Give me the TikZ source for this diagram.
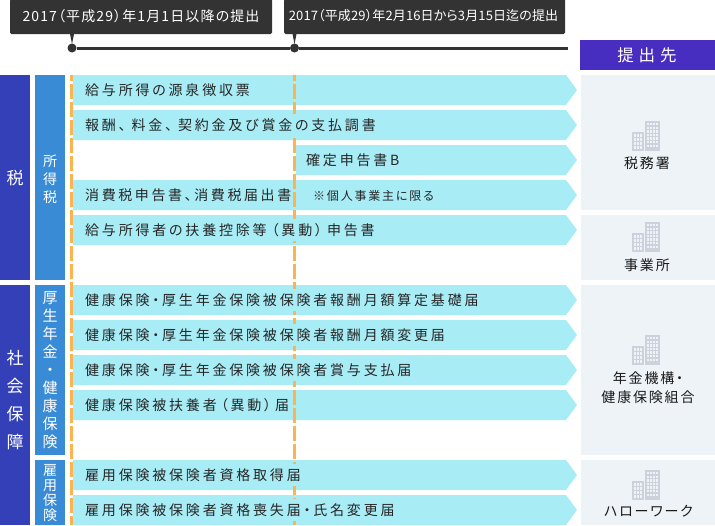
\documentclass[tikz,border=0pt]{standalone}
\usepackage{fontspec}
\setmainfont[RawFeature=+palt]{Noto Sans CJK JP}
\newfontfamily\spacedfont[LetterSpace=20,RawFeature=+palt]{Noto Sans CJK JP}
\newfontfamily\tightfont[LetterSpace=18.5,RawFeature=+palt]{Noto Sans CJK JP}
\newfontfamily\destfont[LetterSpace=13,RawFeature=+palt]{Noto Sans CJK JP}
\newfontfamily\headfont[LetterSpace=30]{Noto Sans CJK JP}
\newfontfamily\calloutfont[LetterSpace=8,RawFeature=+palt]{Noto Sans CJK JP}
\newfontfamily\calloutbfont[LetterSpace=1,RawFeature=+palt]{Noto Sans CJK JP}
\usetikzlibrary{
    arrows,
    shapes,
    shapes.misc
}
\definecolor{callgray}{HTML}{333333}
\definecolor{headviolet}{HTML}{482EC0}
\definecolor{taxblue}{HTML}{3340B8}
\definecolor{subblue}{HTML}{3A8BD6}
\definecolor{rowcyan}{HTML}{A8ECF5}
\definecolor{dashorange}{HTML}{FBB450}
\definecolor{destgray}{HTML}{EEF3F8}
\definecolor{icongray}{HTML}{CDD1DC}
\tikzset{
    rowtext/.style={anchor=west, inner sep=0pt, minimum height=22pt, fill=rowcyan, text=black!85, font=\spacedfont\fontsize{14}{16}\selectfont},
    notetext/.style={anchor=west, inner sep=0pt, text=black!85, font=\fontsize{12}{14}\selectfont\addfontfeature{LetterSpace=15}},
    calltext/.style={inner sep=0pt, text=white},
    desttext/.style={inner sep=0pt, align=center, text=black!90, font=\destfont\fontsize{14}{19}\selectfont},
    sidetext/.style={inner sep=0pt, align=center, text=white, font=\fontsize{14}{18}\selectfont},
    arrowrow/.style={fill=rowcyan},
    timedash/.style={draw=dashorange, line width=3pt, dash pattern=on 15pt off 3pt, dash phase=9pt}
}
\newcommand{\rowarrow}[2]{\fill[arrowrow] (#1,#2) -- (566,#2) -- (577,#2-15) -- (566,#2-30) -- (#1,#2-30) -- cycle;}
\newcommand{\buildingicon}[2]{
    \fill[icongray] (#1,#2-11) rectangle (#1+12,#2-30);
    \fill[icongray] (#1+13,#2) rectangle (#1+28,#2-30);
    \foreach \col in {0,1,2}
        \foreach \row in {0,1,2,3}
            \fill[destgray] (#1+1.5+\col*3.2,#2-13-\row*4) rectangle ++(2.2,-2.6);
    \foreach \col in {0,1,2,3}
        \foreach \row in {0,1,2,3,4,5,6}
            \fill[destgray] (#1+15+\col*3,#2-2-\row*3.6) rectangle ++(2.2,-2.4);
}
\begin{document}
\begin{tikzpicture}[x=1pt, y=1pt]
            \useasboundingbox (0,0) rectangle (715,-525);
            
            % callouts
            \fill[callgray, rounded corners=1.5pt] (10,1) rectangle (272,-34);
            \fill[callgray, rounded corners=1.5pt] (284,1) rectangle (565,-34);
            \fill[callgray] (70,-34) -- (74,-34) -- (72,-44) -- cycle;
            \fill[callgray] (292.5,-34) -- (296.5,-34) -- (294.5,-44) -- cycle;
            \node[calltext, font=\calloutfont\fontsize{14}{16}\selectfont] (call1) at (141,-16) {2017（平成29）年1月1日以降の提出};
            \node[calltext, font=\calloutbfont\fontsize{13}{16}\selectfont] (call2) at (423.5,-16) {2017（平成29）年2月16日から3月15日迄の提出};
            
            % time line
            \coordinate (lineend) at (568,-48);
            \node[draw=none, fill=callgray, circle, inner sep=0pt, minimum size=9pt] (dot1) at (72,-48) {};
            \node[draw=none, fill=callgray, circle, inner sep=0pt, minimum size=9pt] (dot2) at (294.5,-48) {};
            \draw[callgray, line width=3pt] (dot1)--(dot2);
            \draw[callgray, line width=3pt] (dot2)--(lineend);
            
            % left columns
            \fill[taxblue] (0,-75) rectangle (30,-280);
            \fill[taxblue] (0,-285) rectangle (30,-525);
            \fill[subblue] (35,-75) rectangle (65,-280);
            \fill[subblue] (35,-285) rectangle (65,-455);
            \fill[subblue] (35,-460) rectangle (65,-525);
            
            % rows
            \rowarrow{73}{-75}
            \rowarrow{73}{-110}
            \rowarrow{296}{-145}
            \rowarrow{73}{-180}
            \rowarrow{73}{-215}
            \rowarrow{73}{-285}
            \rowarrow{73}{-320}
            \rowarrow{73}{-355}
            \rowarrow{73}{-390}
            \rowarrow{73}{-460}
            \rowarrow{73}{-495}
            
            \draw[timedash] (71.5,-75) -- (71.5,-525);
            \draw[timedash] (294.5,-75) -- (294.5,-525);
            
            % destinations
            \fill[headviolet] (580,-40) rectangle (715,-70);
            \fill[destgray] (581,-75) rectangle (715,-210);
            \fill[destgray] (581,-215) rectangle (715,-280);
            \fill[destgray] (581,-285) rectangle (715,-455);
            \fill[destgray] (581,-460) rectangle (715,-525);
            \buildingicon{632}{-121}
            \buildingicon{632}{-222}
            \buildingicon{632}{-335}
            \buildingicon{632}{-470}
            
            \node[inner sep=0pt, text=white, font=\headfont\fontsize{16.5}{18}\selectfont] (head) at (647,-55) {提出先};
            \node[desttext] (dest1) at (647,-163) {税務署};
            \node[desttext] (dest2) at (647,-265) {事業所};
            \node[desttext] (dest3) at (648,-388) {年金機構・\\健康保険組合};
            \node[desttext] (dest4) at (648.5,-511) {ハローワーク};
            
            % side labels
            \node[sidetext, font=\fontsize{17}{28}\selectfont] (tax) at (15,-178) {税};
            \node[sidetext, font=\fontsize{17}{28}\selectfont] (social) at (15,-400) {社\\会\\保\\障};
            \node[sidetext] (income) at (50,-179) {所\\得\\税};
            \node[sidetext, font=\fontsize{15}{18}\selectfont] (pension) at (50,-370) {厚\\生\\年\\金\\・\\健\\康\\保\\険};
            \node[sidetext, font=\fontsize{14}{15}\selectfont] (employ) at (50,-493.5) {雇\\用\\保\\険};
            
            % row labels
            \node[rowtext] (form1) at (85,-90) {給与所得の源泉徴収票};
            \node[rowtext] (form2) at (85,-125) {報酬、\kern5.8pt 料金、\kern5.8pt 契約金及び賞金の支払調書};
            \node[rowtext] (form3) at (306,-160) {確定申告書B};
            \node[rowtext, font=\tightfont\fontsize{14}{16}\selectfont] (form4) at (85,-195) {消費税申告書、消費税届出書};
            \node[notetext] (note) at (313,-196) {※個人事業主に限る};
            \node[rowtext] (form5) at (85,-230) {給与所得者の扶養控除等\kern5pt（異動）\kern5pt 申告書};
            \node[rowtext] (form6) at (85,-300) {健康保険・厚生年金保険被保険者報酬月額算定基礎届};
            \node[rowtext] (form7) at (85,-335) {健康保険・厚生年金保険被保険者報酬月額変更届};
            \node[rowtext] (form8) at (85,-370) {健康保険・厚生年金保険被保険者賞与支払届};
            \node[rowtext] (form9) at (85,-405) {健康保険被扶養者\kern4pt（異動）\kern4pt 届};
            \node[rowtext] (form10) at (85,-475) {雇用保険被保険者資格取得届};
            \node[rowtext] (form11) at (85,-510) {雇用保険被保険者資格喪失届・氏名変更届};
\end{tikzpicture}
\end{document}
